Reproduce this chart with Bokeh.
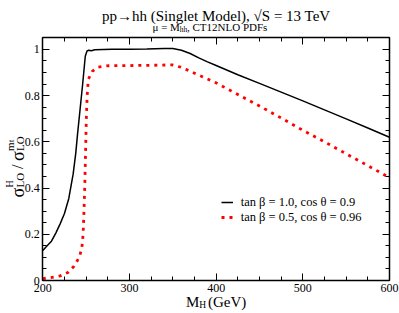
import math
from bokeh.plotting import figure
from bokeh.models import (Range1d, SingleIntervalTicker, LinearAxis,
                          CustomJSTickFormatter, Label)
from bokeh.embed import file_html
from bokeh.resources import INLINE

# ---- data ----
mh_a = [200, 205, 210, 215, 220, 225, 230, 235, 238, 240, 243, 246, 249, 251,
        253, 256, 260, 280, 300, 320, 340, 350, 360, 370, 380, 390, 400, 425,
        450, 475, 500, 525, 550, 575, 600]
ratio_a = [0.13, 0.15, 0.17, 0.205, 0.245, 0.29, 0.355, 0.46, 0.55, 0.63, 0.74,
           0.85, 0.97, 0.993, 0.996, 0.994, 0.998, 1.0, 1.001, 1.002, 1.004,
           1.004, 0.996, 0.982, 0.963, 0.946, 0.93, 0.89, 0.853, 0.815, 0.777,
           0.738, 0.699, 0.66, 0.62]

mh_b = [200, 210, 220, 229, 236, 242, 245, 246.5, 247.5, 248.5, 249.3, 250.2,
        251.2, 252.5, 257, 264, 275, 300, 325, 349, 359, 368, 385, 400, 425,
        450, 475, 500, 525, 550, 575, 600]
ratio_b = [0.008, 0.013, 0.02, 0.035, 0.062, 0.1, 0.14, 0.2, 0.3, 0.42, 0.55,
           0.7, 0.8, 0.87, 0.905, 0.923, 0.929, 0.93, 0.931, 0.933, 0.923,
           0.909, 0.88, 0.855, 0.805, 0.755, 0.703, 0.65, 0.6, 0.548, 0.497,
           0.445]

series_labels = ["tan \u03b2 = 1.0, cos \u03b8 = 0.9",
                 "tan \u03b2 = 0.5, cos \u03b8 = 0.96"]

X_MIN, X_MAX, Y_MIN, Y_MAX = 200, 600, 0, 1.05
FONT = "Liberation Serif"

# ---- layout: the frame fills the whole canvas; the data box sits inside ----
W, H = 399, 313
FL, FR, FT, FB = 42.3, 389.0, 37.3, 280.0   # data box in window pixels
SX = (FR - FL) / (X_MAX - X_MIN)
SY = (FB - FT) / (Y_MAX - Y_MIN)
x_start = X_MIN - FL / SX
x_end = X_MAX + (W - FR) / SX
y_start = Y_MIN - (H - FB) / SY
y_end = Y_MAX + FT / SY

p = figure(width=W, height=H, output_backend="svg", toolbar_location=None,
           x_range=Range1d(x_start, x_end), y_range=Range1d(y_start, y_end),
           x_axis_type=None, y_axis_type=None,
           min_border=0, min_border_left=0, min_border_right=0,
           min_border_top=0, min_border_bottom=0)
p.title_location = None
p.xgrid.visible = False
p.ygrid.visible = False
p.outline_line_color = None
p.background_fill_color = "white"

yfmt = CustomJSTickFormatter(code="return tick.toFixed(1).replace(/\\.0$/, '');")
xfmt = CustomJSTickFormatter(code="return tick.toFixed(0);")


def make_axis(ticker, formatter, loc, bounds, show_labels):
    ax = LinearAxis(ticker=ticker, formatter=formatter, fixed_location=loc,
                    bounds=bounds)
    ax.major_tick_in = 7
    ax.major_tick_out = 0
    ax.minor_tick_in = 4
    ax.minor_tick_out = 0
    ax.major_tick_line_color = "black"
    ax.minor_tick_line_color = "black"
    ax.axis_line_color = "black"
    ax.axis_line_width = 1.5
    ax.major_label_text_font = FONT
    ax.major_label_text_font_size = "12px"
    ax.major_label_text_color = "black"
    ax.major_label_standoff = 3
    if not show_labels:
        ax.major_label_text_alpha = 0
    return ax


def xt():
    return SingleIntervalTicker(interval=100, num_minor_ticks=4)


def yt():
    return SingleIntervalTicker(interval=0.2, num_minor_ticks=4)


p.add_layout(make_axis(xt(), xfmt, Y_MIN, (X_MIN, X_MAX), True), "below")
p.add_layout(make_axis(xt(), xfmt, Y_MAX, (X_MIN, X_MAX), False), "above")
p.add_layout(make_axis(yt(), yfmt, X_MIN, (Y_MIN, Y_MAX), True), "left")
p.add_layout(make_axis(yt(), yfmt, X_MAX, (Y_MIN, Y_MAX), False), "right")

p.line(mh_a, ratio_a, line_color="black", line_width=1.5,
       legend_label=series_labels[0])
p.line(mh_b, ratio_b, line_color="red", line_width=2.8, line_dash="3 5",
       legend_label=series_labels[1])

lg = p.legend[0]
lg.location = (220.7, H - 224.7)
lg.padding = 0
lg.margin = 0
lg.spacing = 0
lg.glyph_width = 12
lg.glyph_height = 14
lg.label_height = 14
lg.label_standoff = 8
lg.border_line_color = None
lg.background_fill_alpha = 0
lg.label_text_font = FONT
lg.label_text_font_size = "12.5px"
lg.label_text_color = "black"


def fx(px):
    return X_MIN + (px - FL) / SX


def fy(py):
    return Y_MIN + (FB - py) / SY


def add_text(text, px, py, size, align="left", angle=0.0):
    p.add_layout(Label(x=fx(px), y=fy(py), text=text, text_font=FONT,
                       text_font_size=f"{size}px", text_align=align,
                       text_baseline="alphabetic", text_color="black",
                       angle=angle))


# title and subtitle
add_text("pp\u2192hh (Singlet Model), \u221aS = 13 TeV", 215.7, 15.5, 15, "center")
add_text("\u03bc = M", 152, 26.5, 11)
add_text("hh", 179.2, 28.5, 7.5)
add_text(", CT12NLO PDFs", 186.5, 26.5, 11)

# x-axis label
add_text("M", 185.5, 301, 15)
add_text("H", 198.8, 304.5, 9.5)
add_text("(GeV)", 207.5, 301, 15)

# y-axis label (rotated, reading upwards)
R = math.pi / 2
add_text("\u03c3", 17, 197, 18, angle=R)
add_text("H", 9, 187, 10, angle=R)
add_text("LO", 19, 187, 11, angle=R)
add_text("/", 17, 168.5, 16, angle=R)
add_text("\u03c3", 17, 160.5, 18, angle=R)
add_text("m", 9, 150.5, 11, angle=R)
add_text("t", 10.5, 141.5, 8, angle=R)
add_text("LO", 19, 150.5, 11, angle=R)

open("out.html", "w").write(file_html(p, INLINE))
